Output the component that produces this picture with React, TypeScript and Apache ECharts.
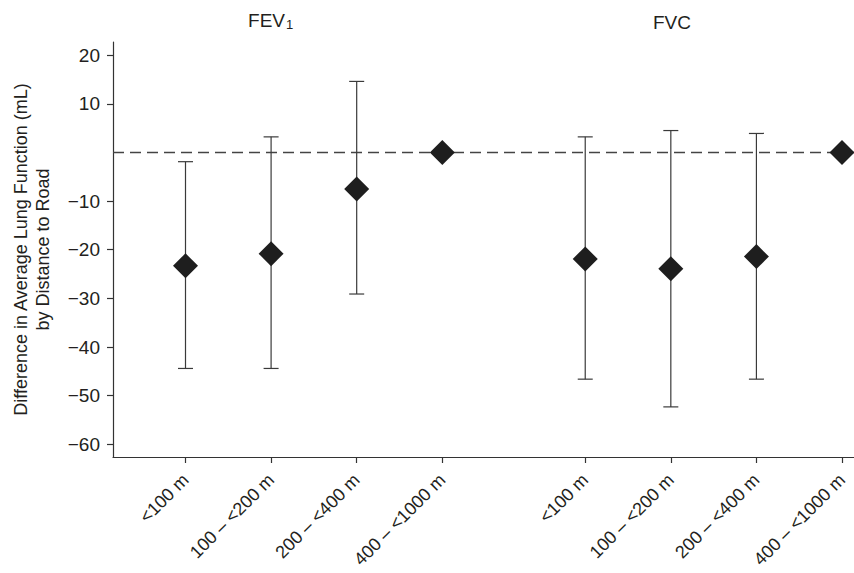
import React, { useEffect, useRef } from "react";
import * as echarts from "echarts";

// ---- Data ----
const distanceLabels = ["<100 m", "100 – <200 m", "200 – <400 m", "400 – <1000 m"];
const fev1Estimate = [-23.3, -20.8, -7.5, 0];
const fev1Lower: (number | null)[] = [-44.4, -44.4, -29.1, null];
const fev1Upper: (number | null)[] = [-1.9, 3.2, 14.6, null];
const fvcEstimate = [-21.9, -23.9, -21.4, 0];
const fvcLower: (number | null)[] = [-46.6, -52.3, -46.6, null];
const fvcUpper: (number | null)[] = [3.2, 4.5, 3.9, null];
const yTickValues = [-60, -50, -40, -30, -20, -10, 10, 20];
const yAxisTitle = "Difference in Average Lung Function (mL)\nby Distance to Road";

// ---- Layout constants ----
const FONT = "'Liberation Sans', Arial, Helvetica, sans-serif";
const TEXT = "#231f20";
const GROUP_OFFSET = 4.67; // x offset of the FVC group on the shared axis

const fevX = distanceLabels.map((_, i) => i + 1);
const fvcX = distanceLabels.map((_, i) => i + 1 + GROUP_OFFSET);
const allX = [...fevX, ...fvcX];
const allLabels = [...distanceLabels, ...distanceLabels];

const pointData = [
  ...fev1Estimate.map((v, i) => [fevX[i], v]),
  ...fvcEstimate.map((v, i) => [fvcX[i], v]),
];

const errorData: number[][] = [];
fev1Estimate.forEach((_, i) => {
  if (fev1Lower[i] != null && fev1Upper[i] != null)
    errorData.push([fevX[i], fev1Lower[i] as number, fev1Upper[i] as number]);
});
fvcEstimate.forEach((_, i) => {
  if (fvcLower[i] != null && fvcUpper[i] != null)
    errorData.push([fvcX[i], fvcLower[i] as number, fvcUpper[i] as number]);
});

const fmtY = (v: number) => (v < 0 ? "\u2212" + Math.abs(v) : String(v));

export default function App() {
  const ref = useRef<HTMLDivElement>(null);

  useEffect(() => {
    if (!ref.current) return;
    const chart = echarts.init(ref.current, undefined, { renderer: "svg" });
    const errStyle = { stroke: "#3a3a3a", lineWidth: 1.2 };
    chart.setOption({
      animation: false,
      backgroundColor: "#ffffff",
      textStyle: { fontFamily: FONT, color: TEXT },
      grid: { left: 113, right: 0, top: 42, bottom: 116, containLabel: false, outerBoundsMode: "none" },
      xAxis: {
        type: "value",
        min: 0.153,
        max: 8.81,
        splitLine: { show: false },
        axisLine: { show: true, onZero: false, lineStyle: { color: "#333", width: 1.2 } },
        axisTick: { show: true, length: 6, customValues: allX, lineStyle: { color: "#333", width: 1.2 } },
        axisLabel: {
          customValues: allX,
          rotate: 45,
          margin: 20,
          fontSize: 18,
          color: TEXT,
          fontFamily: FONT,
          formatter: (v: number) => {
            const idx = allX.findIndex((p) => Math.abs(p - v) < 1e-6);
            return idx >= 0 ? allLabels[idx] : "";
          },
        },
      },
      yAxis: {
        type: "value",
        min: -62.6,
        max: 22.7,
        splitLine: { show: false },
        axisLine: { show: true, onZero: false, lineStyle: { color: "#333", width: 1.2 } },
        axisTick: { show: true, length: 6, customValues: yTickValues, lineStyle: { color: "#333", width: 1.2 } },
        axisLabel: {
          customValues: yTickValues,
          margin: 13,
          fontSize: 19,
          color: TEXT,
          fontFamily: FONT,
          formatter: (v: number) => fmtY(v),
        },
        name: yAxisTitle,
        nameLocation: "middle",
        nameRotate: 90,
        nameGap: 59,
        nameTextStyle: { fontSize: 18, color: TEXT, fontFamily: FONT, lineHeight: 22 },
      },
      graphic: [
        { type: "text", style: { text: "FEV", x: 285, y: 20, align: "right", verticalAlign: "middle", fontSize: 19, fill: TEXT, fontFamily: FONT } },
        { type: "text", style: { text: "1", x: 286, y: 24, align: "left", verticalAlign: "middle", fontSize: 13, fill: TEXT, fontFamily: FONT } },
        { type: "text", style: { text: "FVC", x: 672, y: 22, align: "center", verticalAlign: "middle", fontSize: 19, fill: TEXT, fontFamily: FONT } },
      ],
      series: [
        {
          type: "custom",
          data: errorData,
          silent: true,
          z: 2,
          renderItem: (_params: any, api: any) => {
            const x = api.value(0);
            const lo = api.coord([x, api.value(1)]);
            const hi = api.coord([x, api.value(2)]);
            const half = 7.5;
            return {
              type: "group",
              children: [
                { type: "line", shape: { x1: lo[0], y1: lo[1], x2: hi[0], y2: hi[1] }, style: errStyle },
                { type: "line", shape: { x1: lo[0] - half, y1: lo[1], x2: lo[0] + half, y2: lo[1] }, style: errStyle },
                { type: "line", shape: { x1: hi[0] - half, y1: hi[1], x2: hi[0] + half, y2: hi[1] }, style: errStyle },
              ],
            };
          },
        },
        {
          type: "scatter",
          data: pointData,
          symbol: "diamond",
          symbolSize: [25, 25],
          itemStyle: { color: "#1e1e1e", opacity: 1 },
          silent: true,
          z: 5,
          markLine: {
            silent: true,
            symbol: "none",
            label: { show: false },
            lineStyle: { type: [11, 6], color: "#444", width: 1.4, opacity: 1 },
            data: [{ yAxis: 0 }],
            z: 1,
          },
        },
      ],
    });
    return () => chart.dispose();
  }, []);

  return (
    <div
      ref={ref}
      style={{ position: "fixed", left: 0, top: 0, width: 854, height: 573, background: "#fff" }}
    />
  );
}
